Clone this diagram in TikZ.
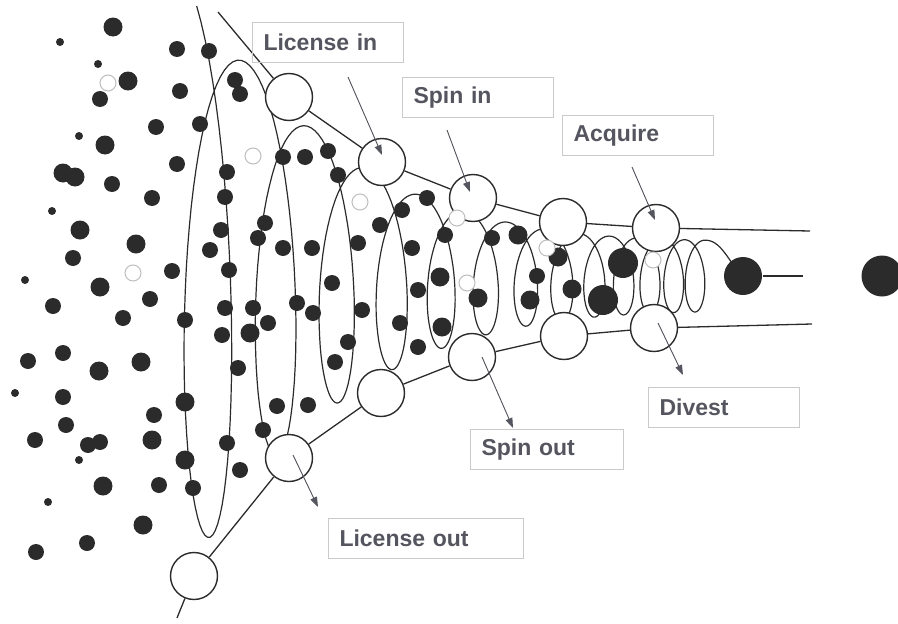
\documentclass[tikz,border=0pt]{standalone}
\usepackage{fontspec}
\setmainfont{Liberation Sans}
\usetikzlibrary{arrows.meta,backgrounds}
\definecolor{ink}{HTML}{2B2B2B}
\definecolor{lblgray}{HTML}{55555F}
\definecolor{boxgray}{HTML}{CACACA}
\definecolor{ringgray}{HTML}{BEBEBE}
\begin{document}
\begin{tikzpicture}[
        x=1pt, y=-1pt,
        >={Triangle[length=10pt,width=7pt]},
        inner sep=0pt,
        line width=1.2pt,
        font=\fontsize{23}{26}\selectfont\bfseries,
        hub/.style={draw=ink,circle,fill=white,minimum size=47pt,line width=1.4pt},
        dot/.style={circle,fill=ink,minimum size=16pt},
        bigdot/.style={circle,fill=ink,minimum size=19pt},
        tinydot/.style={circle,fill=ink,minimum size=8pt},
        hollow/.style={circle,draw=ringgray,fill=white,line width=1pt,minimum size=16pt},
        lbl/.style={draw=boxgray,line width=1pt,text=lblgray,anchor=north west,
                    inner xsep=11pt,minimum height=40pt,text width=#1,align=left},
        lbl/.default=129pt,
        pointer/.style={->,draw=lblgray,fill=lblgray,line width=0.9pt},
        rail/.style={draw=ink,line width=1.3pt}
        ]
        \useasboundingbox (0,0) rectangle (898,624);

        % nodes
        \node[hub] (u1) at (289, 97) {};
        \node[hub] (u2) at (382,162) {};
        \node[hub] (u3) at (473,198) {};
        \node[hub] (u4) at (563,222) {};
        \node[hub] (u5) at (656,228) {};

        \node[hub] (l0) at (194,576) {};
        \node[hub] (l1) at (289,458) {};
        \node[hub] (l2) at (381,393) {};
        \node[hub] (l3) at (472,357) {};
        \node[hub] (l4) at (564,336) {};
        \node[hub] (l5) at (654,328) {};

        \node[circle,fill=ink,minimum size=38pt] (prod) at (743,276) {};
        \node[circle,fill=ink,minimum size=41pt] (lone) at (882,276) {};

        \coordinate (topin)  at (218, 12);
        \coordinate (botin)  at (177,618);
        \coordinate (topout) at (810,231);
        \coordinate (midout) at (803,276);
        \coordinate (botout) at (812,324);

        % ideas
        \foreach \x/\y [count=\i] in {177/49,209/51,180/91,235/80,240/94,156/127,200/124,
                100/99,112/184,177/164,152/198,227/172,225/197,172/271,221/230,210/250,
                229/270,225/308,73/258,150/299,53/306,123/318,185/320,222/335,268/323,
                28/361,63/353,63/397,66/425,154/415,35/440,100/442,88/445,159/485,87/543,
                36/552,193/488,238/368,263/430,227/443,240/470,277/406,308/405,265/223,
                258/238,283/248,312/248,358/243,332/283,380/225,402/210,427/198,412/248,
                445/235,418/290,253/308,297/303,313/313,362/310,400/323,348/342,335/362,
                418/347,283/157,305/157,328/151,338/175,492/238,537/276}
            \node[dot] (d\i) at (\x,\y) {};
        \foreach \x/\y [count=\i] in {113/27,128/81,105/145,63/173,75/177,80/230,136/244,
                100/287,99/371,141/362,185/402,152/440,185/460,103/486,143/525,250/333,
                442/327,440/277,518/235,478/298,530/300,558/257,572/289}
            \node[bigdot] (b\i) at (\x,\y) {};
        \foreach \x/\y [count=\i] in {60/42,98/64,79/136,52/211,25/280,15/393,79/460,48/502}
            \node[tinydot] (t\i) at (\x,\y) {};
        \node[circle,fill=ink,minimum size=30pt] (h1) at (623,263) {};
        \node[circle,fill=ink,minimum size=30pt] (h2) at (603,300) {};
        \foreach \x/\y [count=\i] in {108/83,133/273,253/156,360/202,457/218,467/283,
                547/248,653/260}
            \node[hollow] (o\i) at (\x,\y) {};

        % spring
        \begin{pgfonlayer}{background}
        \draw[rail,line width=1.2pt] plot[domain=0.08:13,samples=900,variable=\t]
            ({207+680*(1-exp(-0.10536*(\t-0.5)))+(12+28*exp(-0.2*(\t-0.5)))*sin(360*\t)},
             {276-(35+226*exp(-0.45*(\t-0.5)))*cos(360*\t)})
            .. controls +(18,-2) and +(-14,-12) .. (prod.center);
        \end{pgfonlayer}

        % edges
        \draw[rail] (topin) -- (u1) -- (u2) -- (u3) -- (u4) -- (u5) -- (topout);
        \draw[rail] (botin) -- (l0) -- (l1) -- (l2) -- (l3) -- (l4) -- (l5) -- (botout);
        \draw[rail] (prod) -- (midout);

        % labels
        \node[lbl] (licin)  at (252, 22) {License in};
        \node[lbl] (spinin) at (402, 77) {Spin in};
        \node[lbl] (acq)    at (562,115) {Acquire};
        \node[lbl] (div)    at (648,387) {Divest};
        \node[lbl=131pt] (spinout) at (470,429) {Spin out};
        \node[lbl=173pt] (licout)  at (328,518) {License out};

        \coordinate (a1) at (348, 77); \coordinate (a1e) at (382,155);
        \coordinate (a2) at (447,130); \coordinate (a2e) at (470,192);
        \coordinate (a3) at (632,167); \coordinate (a3e) at (655,220);
        \coordinate (a4) at (658,323); \coordinate (a4e) at (683,375);
        \coordinate (a5) at (482,357); \coordinate (a5e) at (513,428);
        \coordinate (a6) at (293,455); \coordinate (a6e) at (318,507);
        \draw[pointer] (a1) -- (a1e);
        \draw[pointer] (a2) -- (a2e);
        \draw[pointer] (a3) -- (a3e);
        \draw[pointer] (a4) -- (a4e);
        \draw[pointer] (a5) -- (a5e);
        \draw[pointer] (a6) -- (a6e);

    \end{tikzpicture}
\end{document}
